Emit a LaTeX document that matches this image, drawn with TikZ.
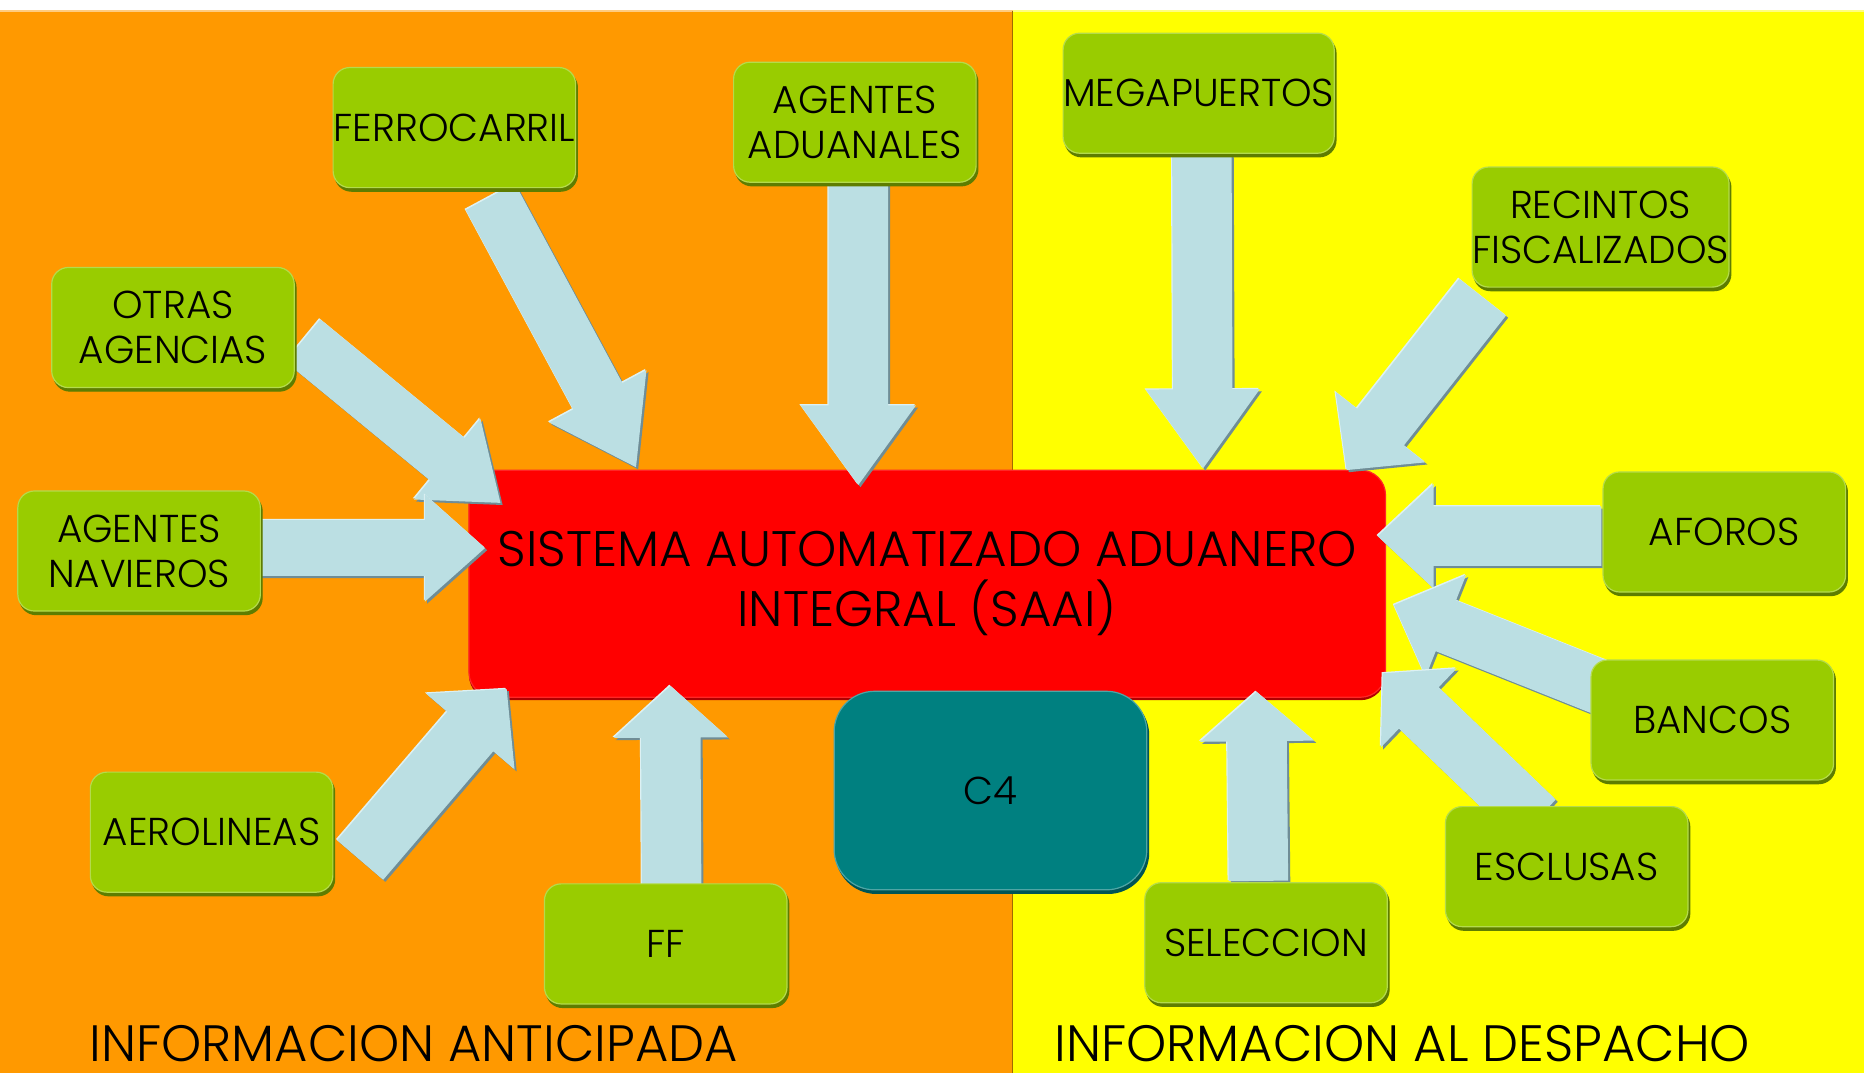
\documentclass[tikz,border=0pt]{standalone}
\usepackage{fontspec}
\setmainfont{Poppins Light}
\usetikzlibrary{calc}
\definecolor{bgorange}{HTML}{FF9900}
\definecolor{bgyellow}{HTML}{FFFF00}
\definecolor{saaired}{HTML}{FF0000}
\definecolor{saaishadow}{HTML}{B00000}
\definecolor{boxgreen}{HTML}{99CC00}
\definecolor{boxshadow}{HTML}{5E7D00}
\definecolor{boxedge}{HTML}{B4DB4C}
\definecolor{tealbox}{HTML}{008080}
\definecolor{tealshadow}{HTML}{005555}
\definecolor{tealedge}{HTML}{4FA5A5}
\definecolor{arrfill}{HTML}{BBDFE3}
\definecolor{arrshadow}{HTML}{6F8D96}
\definecolor{arrlight}{HTML}{DDF1F3}
\definecolor{divline}{HTML}{A06A00}

% polygon of a block arrow from (baT) to (baP); #1 options, #2 half shaft, #3 half head
\newcommand{\baFill}[3]{%
  \fill[#1] ($(baT)!#2!90:(baP)$) -- ($(baB)!#2!90:(baP)$) -- ($(baB)!#3!90:(baP)$) -- (baP)
    -- ($(baB)!#3!-90:(baP)$) -- ($(baB)!#2!-90:(baP)$) -- ($(baT)!#2!-90:(baP)$) -- cycle;}
% #1 tail, #2 tip, #3 half shaft width, #4 half head width, #5 head length
\newcommand{\blockarr}[5]{%
  \coordinate (baT) at #1;
  \coordinate (baP) at #2;
  \coordinate (baB) at ($(baP)!#5!(baT)$);
  \baFill{arrshadow, transform canvas={shift={(1.8pt,-1.8pt)}}}{#3}{#4}
  \baFill{arrlight, transform canvas={shift={(-1pt,1pt)}}}{#3}{#4}
  \baFill{arrfill}{#3}{#4}}

\tikzset{
  gbox/.style={rectangle, rounded corners=14pt, fill=boxgreen, draw=boxedge, line width=1pt,
    minimum width=204pt, minimum height=101pt, inner sep=0pt, align=center,
    font=\fontsize{32.7}{38}\selectfont,
    preaction={fill=boxshadow, draw=boxshadow, transform canvas={shift={(1.5pt,-3pt)}}}},
  saaibox/.style={rectangle, rounded corners=21pt, fill=saaired, draw=saaired!85!white, line width=1pt,
    minimum width=771pt, minimum height=191pt, inner sep=0pt, align=center,
    font=\fontsize{42}{50}\selectfont,
    preaction={fill=saaishadow, transform canvas={shift={(0pt,-2.5pt)}}}},
  c4box/.style={rectangle, rounded corners=34pt, fill=tealbox, draw=tealedge, line width=1pt,
    minimum width=263pt, minimum height=167pt, inner sep=0pt, align=center,
    font=\fontsize{32.7}{38}\selectfont,
    preaction={fill=tealshadow, draw=tealshadow, transform canvas={shift={(1.5pt,-3pt)}}}},
  biglabel/.style={anchor=base west, inner sep=0pt, font=\fontsize{43}{50}\selectfont}
}

\begin{document}
\begin{tikzpicture}[x=1pt, y=-1pt]
\useasboundingbox (0,0) rectangle (1568,903);
% background
\fill[white] (0,0) rectangle (1568,903);
\fill[bgorange] (0,9) rectangle (852,903);
\fill[bgyellow] (852,9) rectangle (1568,903);
\draw[bgorange!50!white, line width=1.5pt] (0,9.5) -- (852,9.5);
\draw[bgyellow!50!white, line width=1.5pt] (852,9.5) -- (1568,9.5);
\draw[divline, line width=1pt] (852,9) -- (852,903);

% central system
\node[saaibox] (saai) at (780,491) {SISTEMA AUTOMATIZADO ADUANERO\\INTEGRAL (SAAI)};

% arrows
\blockarr{(412.5,165.5)}{(535,393)}{23.5pt}{46.5pt}{67.8pt}   % ferrocarril
\blockarr{(722,150)}{(722,408)}{25pt}{48.5pt}{67pt}          % agentes aduanales
\blockarr{(254.8,286.4)}{(421,423)}{23pt}{44pt}{58pt}        % otras agencias
\blockarr{(215,461)}{(408,461)}{23.5pt}{45pt}{50.5pt}        % agentes navieros
\blockarr{(303,723.4)}{(426.2,579.6)}{25.5pt}{49pt}{47pt}    % aerolineas
\blockarr{(565,746)}{(564,577)}{25pt}{48pt}{43.5pt}          % ff
\blockarr{(1011,126)}{(1012,394)}{25pt}{48pt}{66.5pt}        % megapuertos
\blockarr{(1247.2,250)}{(1132.8,395.4)}{25pt}{48pt}{46pt}    % recintos
\blockarr{(1347,451)}{(1159,451)}{25pt}{44pt}{47pt}          % aforos
\blockarr{(1346.5,578.3)}{(1172.6,509)}{23pt}{46pt}{47pt}    % bancos
\blockarr{(1292,690)}{(1163.2,566.4)}{24pt}{46pt}{42pt}      % esclusas
\blockarr{(1058.6,741)}{(1057,582)}{25pt}{48pt}{41.5pt}      % seleccion

% C4
\node[c4box] (c4) at (833.2,665) {C4};

% sources
\node[gbox] (ferro) at (382.2,107.3) {FERROCARRIL};
\node[gbox] (aduanales) at (719.1,102.8) {AGENTES\\ADUANALES};
\node[gbox] (otras) at (145.5,275.5) {OTRAS\\AGENCIAS};
\node[gbox] (navieros) at (117,463.5) {AGENTES\\NAVIEROS};
\node[gbox] (aerolineas) at (178,700) {AEROLINEAS};
\node[gbox] (ff) at (560,794) {FF};
\node[gbox, minimum width=227pt] (mega) at (1008.3,78.4) {MEGAPUERTOS};
\node[gbox, minimum width=206pt] (recintos) at (1346.4,191) {RECINTOS\\FISCALIZADOS};
\node[gbox] (aforos) at (1450.5,447.5) {AFOROS};
\node[gbox] (bancos) at (1440.4,605.7) {BANCOS};
\node[gbox] (esclusas) at (1317.9,729) {ESCLUSAS};
\node[gbox] (seleccion) at (1065,793) {SELECCION};

% section labels
\node[biglabel] (antic) at (75,893) {INFORMACION ANTICIPADA};
\node[biglabel] (desp) at (887,893) {INFORMACION AL DESPACHO};
\end{tikzpicture}
\end{document}
